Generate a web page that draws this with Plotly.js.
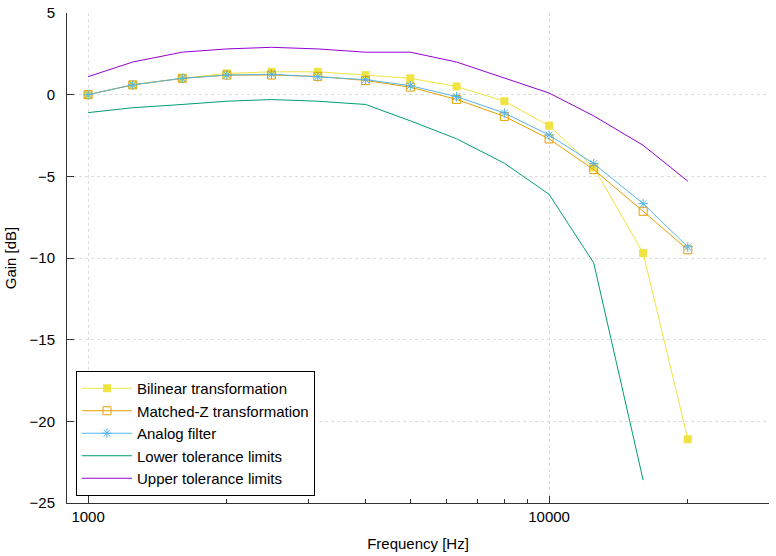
<!DOCTYPE html>
<html>
<head>
<meta charset="utf-8">
<script src="https://cdn.plot.ly/plotly-3.0.1.min.js"></script>
<style>
  html, body { margin: 0; padding: 0; background: #fff; }
  #plot { width: 776px; height: 556px; }
</style>
</head>
<body>
<div id="plot"></div>
<script>
// third-octave frequencies (Hz)
const freq = [1000, 1250, 1600, 2000, 2500, 3150, 4000, 5000, 6300, 8000, 10000, 12500, 16000, 20000];

// gain values (dB)
const bilinear = [0, 0.6, 1.0, 1.3, 1.4, 1.4, 1.2, 1.0, 0.5, -0.4, -1.9, -4.45, -9.7, -21.1];
const matchedZ = [0, 0.6, 1.0, 1.2, 1.2, 1.12, 0.87, 0.46, -0.29, -1.33, -2.71, -4.59, -7.14, -9.5];
const analog = [0, 0.6, 1.0, 1.2, 1.25, 1.1, 0.92, 0.55, -0.12, -1.12, -2.47, -4.22, -6.67, -9.32];
const lowerTol = [-1.1, -0.8, -0.6, -0.4, -0.3, -0.4, -0.6, -1.6, -2.7, -4.2, -6.1, -10.3, -23.6];
const upperTol = [1.1, 2.0, 2.6, 2.8, 2.9, 2.8, 2.6, 2.6, 2.0, 1.0, 0.1, -1.3, -3.1, -5.3];

// axis ticks
const majorX = [1000, 10000];
const majorXText = ['1000', '10000'];
const minorX = [2000, 3000, 4000, 5000, 6000, 7000, 8000, 9000, 20000, 30000];

const font = { family: 'Liberation Sans, Arial, sans-serif', size: 15, color: '#000' };

const traces = [
  {
    x: freq, y: bilinear, name: 'Bilinear transformation',
    type: 'scatter', mode: 'lines+markers',
    line: { color: '#F0E442', width: 1 },
    marker: { symbol: 'square', size: 8, color: '#F0E442' }
  },
  {
    x: freq, y: matchedZ, name: 'Matched-Z transformation',
    type: 'scatter', mode: 'lines+markers',
    line: { color: '#E69F00', width: 1 },
    marker: { symbol: 'square-open', size: 8, color: '#E69F00', line: { width: 1 } }
  },
  {
    x: freq, y: analog, name: 'Analog filter',
    type: 'scatter', mode: 'lines+markers',
    line: { color: '#56B4E9', width: 1 },
    marker: { symbol: 'asterisk-open', size: 8, color: '#56B4E9', line: { width: 1, color: '#56B4E9' } }
  },
  {
    x: freq.slice(0, lowerTol.length), y: lowerTol, name: 'Lower tolerance limits',
    type: 'scatter', mode: 'lines',
    line: { color: '#009E73', width: 1 }
  },
  {
    x: freq, y: upperTol, name: 'Upper tolerance limits',
    type: 'scatter', mode: 'lines',
    line: { color: '#9400D3', width: 1 }
  }
];

const layout = {
  width: 776,
  height: 556,
  margin: { l: 67, r: 7, t: 13, b: 53 },
  paper_bgcolor: '#fff',
  plot_bgcolor: '#fff',
  font: font,
  showlegend: true,
  legend: {
    x: 0.0128, y: 0.0143, xanchor: 'left', yanchor: 'bottom',
    bgcolor: '#fff', bordercolor: '#000', borderwidth: 1,
    font: font, tracegroupgap: 0, itemwidth: 50
  },
  xaxis: {
    type: 'log',
    range: [Math.log10(900), Math.log10(30000)],
    tickmode: 'array', tickvals: majorX, ticktext: majorXText,
    ticks: 'inside', ticklen: 7, tickcolor: '#333', tickwidth: 1,
    showline: true, linecolor: '#333', linewidth: 1, mirror: false,
    showgrid: true, gridcolor: '#dddddd', griddash: 'dot', gridwidth: 1,
    zeroline: false,
    minor: { tickvals: minorX, ticks: 'inside', ticklen: 4, tickcolor: '#333', showgrid: false },
    title: { text: 'Frequency [Hz]', font: font, standoff: 14 },
    tickfont: font
  },
  yaxis: {
    range: [-25, 5],
    tickmode: 'linear', tick0: -25, dtick: 5,
    ticks: 'inside', ticklen: 7, tickcolor: '#333', tickwidth: 1,
    showline: true, linecolor: '#333', linewidth: 1, mirror: false,
    showgrid: true, gridcolor: '#dddddd', griddash: 'dot', gridwidth: 1,
    zeroline: false,
    title: { text: 'Gain [dB]', font: font, standoff: 9 },
    tickfont: font,
    ticklabelstandoff: 8
  }
};

Plotly.newPlot('plot', traces, layout, { displayModeBar: false, staticPlot: true });
</script>
</body>
</html>
